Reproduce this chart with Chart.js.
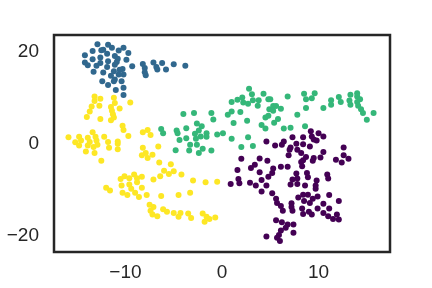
<!DOCTYPE html>
<html>
<head>
<meta charset="utf-8">
<script src="https://cdn.jsdelivr.net/npm/chart.js@4/dist/chart.umd.min.js"></script>
<style>
  html, body { margin: 0; padding: 0; background: #fff; }
  #wrap { width: 432px; height: 288px; }
</style>
</head>
<body>
<div id="wrap"><canvas id="tsne"></canvas></div>
<script>
// ticks
const xTicks = [-10, 0, 10];
const yTicks = [-20, 0, 20];

// cluster colours (viridis, 4 levels)
const clusterColors = ['#440154', '#31688e', '#35b779', '#fde725'];

// cluster 0 - purple, lower right
const cluster0 = [
  [9.2, 2.7], [10.0, 2.3], [10.5, 1.6], [9.3, 1.6], [9.8, 0.7], [8.4, 1.4], [7.3, 1.4], [7.7, 0.0],
  [8.4, -0.1], [9.1, -0.6], [9.5, 0.9], [4.6, 0.5], [5.5, -0.4], [6.2, -0.2], [6.4, 0.5], [7.1, -0.8],
  [7.0, -1.3], [7.8, -1.3], [8.2, -2.0], [6.9, -2.5], [8.7, -2.9], [9.5, -3.1], [10.2, -3.0], [10.5, -1.8],
  [8.4, -3.6], [9.4, -3.7], [8.3, -4.9], [8.2, -4.0], [12.6, -0.8], [12.6, -2.5], [13.1, -3.3], [11.8, -3.5],
  [12.4, -4.1], [2.0, -3.3], [3.9, -3.2], [4.7, -3.7], [3.4, -4.6], [3.0, -5.3], [5.3, -5.4], [5.2, -6.4],
  [6.1, -5.0], [6.8, -5.0], [3.9, -6.2], [1.6, -5.7], [4.8, -7.2], [1.7, -7.7], [1.8, -8.6], [0.9, -8.8],
  [2.9, -8.5], [3.5, -9.1], [4.1, -7.9], [4.6, -9.1], [4.1, -10.4], [5.2, -10.8], [7.7, -6.5], [7.8, -7.6],
  [7.8, -8.8], [7.3, -7.8], [7.1, -8.9], [8.8, -6.4], [8.9, -7.3], [8.6, -9.1], [9.8, -8.0], [9.7, -9.1],
  [9.7, -9.8], [10.9, -6.7], [11.0, -7.6], [9.9, -11.5], [8.4, -11.1], [7.9, -11.7], [8.9, -11.1], [9.4, -12.0],
  [8.5, -12.5], [9.1, -12.9], [5.6, -12.0], [5.7, -12.9], [6.1, -13.6], [6.3, -14.6], [7.2, -13.0], [7.2, -13.8],
  [7.3, -14.6], [8.3, -14.1], [8.4, -15.3], [9.0, -14.8], [9.9, -14.1], [9.3, -15.4], [10.5, -13.1], [11.1, -14.1],
  [11.1, -11.2], [12.1, -12.5], [10.5, -15.1], [11.0, -15.8], [11.5, -16.4], [11.9, -15.4], [12.1, -16.5], [5.6, -16.7],
  [6.2, -17.1], [6.8, -17.6], [7.4, -17.6], [6.6, -18.3], [6.1, -18.9], [7.4, -19.4], [5.9, -19.9], [5.7, -20.5],
  [4.6, -20.2], [6.0, -21.2]
];

// cluster 1 - blue, upper left
const cluster1 = [
  [-12.9, 21.7], [-11.8, 21.6], [-11.4, 20.9], [-10.2, 20.9], [-12.3, 20.5], [-13.4, 20.2], [-10.7, 20.3], [-9.7, 19.8],
  [-14.2, 19.3], [-11.9, 19.6], [-11.1, 19.1], [-12.6, 18.8], [-13.4, 18.4], [-10.8, 18.5], [-9.9, 18.3], [-11.8, 18.0],
  [-12.6, 17.6], [-10.9, 17.8], [-14.2, 17.7], [-13.9, 17.1], [-9.3, 16.9], [-11.1, 17.2], [-8.2, 17.4], [-7.1, 17.7],
  [-6.2, 17.6], [-5.0, 17.3], [-3.8, 17.0], [-11.9, 16.7], [-10.3, 16.3], [-8.0, 16.5], [-6.8, 16.7], [-6.7, 16.2],
  [-5.8, 16.2], [-13.3, 15.7], [-12.3, 15.5], [-11.2, 15.8], [-10.2, 15.1], [-8.0, 15.6], [-7.9, 14.9], [-11.5, 14.8],
  [-11.1, 14.0], [-10.4, 13.6], [-12.4, 13.6], [-11.8, 12.8], [-11.2, 13.6], [-11.0, 11.7], [-10.2, 12.2], [-10.2, 10.6],
  [-12.5, 20.4], [-10.6, 16.1], [-10.7, 15.1], [-13.0, 17.0]
];

// cluster 2 - green, middle / upper right
const cluster2 = [
  [2.8, 12.0], [3.1, 10.8], [4.3, 10.9], [1.0, 9.1], [1.6, 9.6], [2.1, 10.1], [2.2, 9.0], [2.7, 8.7],
  [3.2, 9.5], [3.8, 9.5], [3.7, 8.3], [4.8, 9.7], [1.0, 7.0], [1.9, 6.9], [0.6, 6.3], [4.9, 7.5],
  [5.3, 8.2], [4.8, 6.1], [4.5, 5.7], [2.6, 5.0], [1.2, 4.5], [4.1, 4.1], [4.5, 3.3], [-4.0, 6.5],
  [-2.9, 6.7], [-1.1, 6.7], [-0.9, 5.3], [-2.6, 4.4], [-6.3, 3.2], [-6.1, 2.3], [-4.7, 2.9], [-4.6, 2.3],
  [-3.7, 3.4], [-2.4, 2.9], [-2.8, 2.2], [-2.1, 3.8], [-1.6, 2.3], [-0.5, 2.0], [0.1, 2.3], [-3.7, 1.2],
  [-2.7, 1.1], [-2.2, 1.6], [-1.6, 1.5], [-4.4, 0.8], [-3.3, -0.2], [-2.6, -0.2], [-2.0, -1.1], [-4.8, -1.4],
  [-3.4, -1.5], [-2.4, -2.0], [-1.1, -1.5], [1.0, 1.1], [2.7, 1.4], [2.0, -0.7], [3.2, -0.5],
  [8.5, 10.9], [9.6, 11.0], [8.7, 9.7], [9.3, 9.9], [6.8, 10.3], [11.3, 9.5], [11.3, 8.5], [12.1, 10.2],
  [12.3, 9.1], [13.3, 10.7], [14.0, 11.0], [14.0, 10.3], [14.3, 9.7], [13.2, 9.4], [14.0, 9.1], [13.3, 8.5],
  [14.1, 8.3], [14.4, 7.5], [14.6, 6.7], [15.7, 6.7], [15.0, 5.2], [10.5, 7.8], [8.7, 7.8], [7.8, 6.3],
  [8.6, 3.8], [7.1, 3.5], [6.4, 3.3], [5.4, 4.6], [5.8, 5.4], [6.1, 7.6], [5.6, 8.2], [5.0, 9.7], [5.3, 7.2]
];

// cluster 3 - yellow, left / lower middle
const cluster3 = [
  [-13.2, 10.3], [-12.6, 9.8], [-13.2, 9.3], [-11.2, 10.0], [-11.1, 8.9], [-9.5, 9.0], [-12.7, 8.3], [-13.5, 8.1],
  [-11.5, 8.0], [-10.6, 7.7], [-13.7, 7.0], [-11.4, 7.2], [-11.3, 6.4], [-14.0, 5.8], [-12.6, 5.4], [-11.2, 5.7],
  [-11.5, 5.1], [-10.3, 3.9], [-10.2, 3.0], [-13.4, 2.5], [-9.7, 1.7], [-15.9, 1.4], [-14.8, 1.5], [-13.9, 1.3],
  [-13.1, 1.5], [-12.2, 1.5], [-8.2, 2.5], [-7.7, 3.0], [-7.4, 1.9], [-15.2, 0.3], [-14.6, 0.7], [-13.7, 0.4],
  [-13.0, 0.7], [-11.8, 0.4], [-10.8, 0.5], [-10.8, 0.0], [-14.8, -0.4], [-13.9, -0.4], [-13.3, -0.7], [-12.9, -0.2],
  [-11.7, -0.9], [-10.8, -1.2], [-14.1, -1.7], [-13.2, -2.0], [-8.2, -0.9], [-8.3, -2.5], [-7.9, -2.0], [-7.7, -3.1],
  [-7.2, -2.4], [-6.6, -0.6], [-12.5, -3.7],
  [-6.5, -4.1], [-5.3, -4.5], [-6.0, -5.9], [-5.0, -6.0], [-5.5, -6.6], [-4.2, -6.7], [-9.1, -6.7], [-10.1, -7.1],
  [-10.5, -7.7], [-9.6, -7.5], [-8.3, -7.2], [-8.8, -7.5], [-6.4, -7.1], [-7.1, -7.8], [-3.0, -8.0], [-1.7, -8.4],
  [-0.5, -8.3], [-10.4, -9.1], [-9.6, -8.9], [-8.8, -8.4], [-8.3, -9.6], [-9.4, -9.8], [-12.0, -9.6], [-11.6, -10.2],
  [-10.3, -10.7], [-9.8, -11.2], [-9.0, -10.7], [-8.6, -11.6], [-7.8, -11.2], [-6.3, -11.4], [-4.5, -11.2], [-3.3, -10.7],
  [-7.5, -13.3], [-7.1, -13.8], [-7.4, -14.6], [-7.2, -15.4], [-6.7, -15.8], [-6.1, -14.3], [-5.7, -14.8], [-5.0, -15.1],
  [-4.3, -15.1], [-4.5, -15.9], [-3.5, -15.2], [-3.2, -16.2], [-2.0, -15.2], [-1.6, -15.9], [-1.8, -17.0], [-1.3, -16.4],
  [-0.7, -16.1]
];

const clusters = [cluster0, cluster1, cluster2, cluster3];

function minusLabel(v) {
  return v < 0 ? '\u2212' + Math.abs(v) : String(v);
}

// plot frame, all four sides
const framePlugin = {
  id: 'frame',
  afterDraw(chart) {
    const a = chart.chartArea;
    const ctx = chart.ctx;
    ctx.save();
    ctx.strokeStyle = '#262626';
    ctx.lineWidth = 2.5;
    ctx.strokeRect(a.left, a.top, a.right - a.left, a.bottom - a.top);
    ctx.restore();
  }
};

const tickFont = { family: "'Liberation Sans', Arial, sans-serif", size: 19 };

new Chart(document.getElementById('tsne'), {
  type: 'scatter',
  data: {
    datasets: clusters.map(function (pts, i) {
      return {
        data: pts.map(function (p) { return { x: p[0], y: p[1] }; }),
        backgroundColor: clusterColors[i],
        borderWidth: 0,
        pointRadius: 3,
        pointHoverRadius: 3
      };
    })
  },
  options: {
    responsive: true,
    maintainAspectRatio: false,
    animation: false,
    layout: { padding: { top: 35, right: 42, left: 0, bottom: 0 } },
    plugins: { legend: { display: false }, tooltip: { enabled: false } },
    scales: {
      x: {
        min: -17.4,
        max: 17.4,
        afterBuildTicks: function (s) { s.ticks = xTicks.map(function (v) { return { value: v }; }); },
        afterFit: function (s) { s.height = 36; },
        grid: { display: false, drawTicks: false },
        border: { display: false },
        ticks: { color: '#262626', font: tickFont, padding: 9, maxRotation: 0, callback: minusLabel }
      },
      y: {
        min: -23.6,
        max: 23.7,
        afterBuildTicks: function (s) { s.ticks = yTicks.map(function (v) { return { value: v }; }); },
        afterFit: function (s) { s.width = 54; },
        grid: { display: false, drawTicks: false },
        border: { display: false },
        ticks: { color: '#262626', font: tickFont, padding: 15, callback: minusLabel }
      }
    }
  },
  plugins: [framePlugin]
});
</script>
</body>
</html>
